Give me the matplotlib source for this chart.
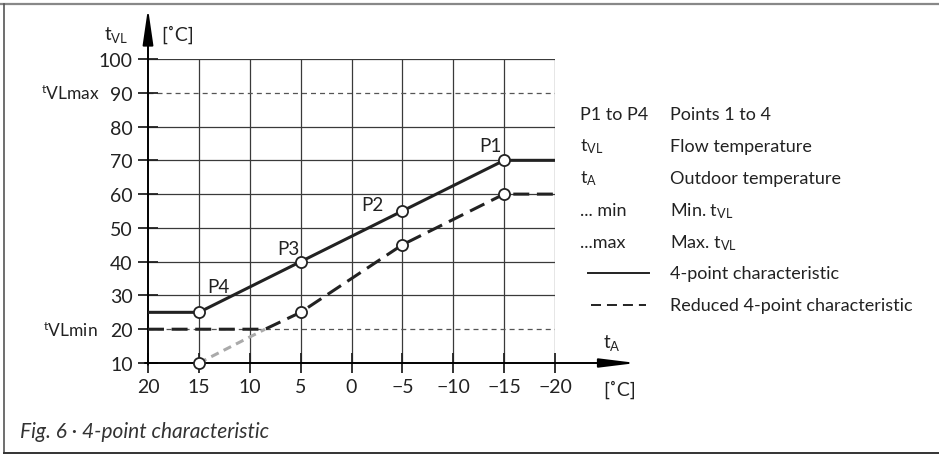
import matplotlib
matplotlib.use("Agg")
import matplotlib.pyplot as plt
from matplotlib.lines import Line2D

plt.rcParams['font.family'] = ['Lato', 'DejaVu Sans']
plt.rcParams['mathtext.fontset'] = 'custom'
plt.rcParams['mathtext.rm'] = 'Lato'
plt.rcParams['lines.scale_dashes'] = False

# data
x_ticks = [20, 15, 10, 5, 0, -5, -10, -15, -20]
x_ticklabels = ['20', '15', '10', '5', '0', '\u22125', '\u221210', '\u221215', '\u221220']
y_ticks = [10, 20, 30, 40, 50, 60, 70, 80, 90, 100]
t_vl_max = 90
t_vl_min = 20

# 4-point characteristic
char_x = [20, 15, 5, -5, -15, -20]
char_y = [25, 25, 40, 55, 70, 70]
points_x = [-15, -5, 5, 15]
points_y = [70, 55, 40, 25]
point_names = ['P1', 'P2', 'P3', 'P4']

# reduced 4-point characteristic
red_x = [20, 8.5, 5, -5, -15, -20]
red_y = [20, 20, 25, 45, 60, 60]
red_pts_x = [15, 5, -5, -15]
red_pts_y = [10, 25, 45, 60]
cut_x = [15, 8.5]
cut_y = [10, 20]

legend_keys = ['P1 to P4', r'$\mathregular{t_{VL}}$', r'$\mathregular{t_{A}}$', '... min', '...max']
legend_texts = ['Points 1 to 4', 'Flow temperature', 'Outdoor temperature',
                r'Min. $\mathregular{t_{VL}}$', r'Max. $\mathregular{t_{VL}}$',
                '4-point characteristic', 'Reduced 4-point characteristic']

W, H = 939, 456
fig = plt.figure(figsize=(W / 100, H / 100), dpi=100)

def fx(px):
    return px / W

def fy(py):
    return 1 - py / H

ax = fig.add_axes([fx(148), fy(364), fx(555) - fx(148), fy(60) - fy(364)])
ax.set_xlim(20, -20)
ax.set_ylim(10, 100)
for s in ax.spines.values():
    s.set_visible(False)

# grid
grid_c = '#3a3a3a'
for xv in x_ticks[1:]:
    ax.plot([xv, xv], [10, 100], color=grid_c, lw=0.9, zorder=1)
for yv in y_ticks[2:]:
    if yv != t_vl_max:
        ax.plot([20, -20], [yv, yv], color=grid_c, lw=0.9, zorder=1)
for yv in (t_vl_max, t_vl_min):
    ax.plot([20, -20], [yv, yv], color='#555555', lw=0.9, ls=(0, (3.6, 2.9)), zorder=1)

ax.set_xticks(x_ticks)
ax.set_xticklabels(x_ticklabels)
ax.set_yticks(y_ticks)
ax.tick_params(direction='inout', length=14, width=1.3, color='#222222',
               labelsize=14, pad=4, labelcolor='#222222')

# axes with arrows
ax.annotate('', xy=(20, 115), xytext=(20, 9.5), annotation_clip=False,
            arrowprops=dict(arrowstyle='-|>,head_length=2.2,head_width=0.32',
                            mutation_scale=10, color='black', lw=1.4,
                            shrinkA=0, shrinkB=0))
ax.annotate('', xy=(-28, 10), xytext=(20.3, 10), annotation_clip=False,
            arrowprops=dict(arrowstyle='-|>,head_length=2.2,head_width=0.27',
                            mutation_scale=10, color='black', lw=1.4,
                            shrinkA=0, shrinkB=0))

# curves
ax.plot(cut_x, cut_y, color='#aaaaaa', lw=2.2, ls=(0, (6, 4)), zorder=3)
ax.plot(red_x, red_y, color='#222222', lw=2.2, ls=(0, (11.5, 5.5)), zorder=3)
ax.plot(char_x, char_y, color='#222222', lw=2.2, zorder=3)
ax.plot(points_x, points_y, 'o', ms=8, mfc='white', mec='#222222', mew=1.3,
        zorder=5, clip_on=False)
ax.plot(red_pts_x, red_pts_y, 'o', ms=8, mfc='white', mec='#222222', mew=1.3,
        zorder=5, clip_on=False)

offsets = [(-10, 10.5), (-21.5, 4.5), (-8.6, 9.6), (13.7, 18.7)]
for name, px, py, off in zip(point_names, points_x, points_y, offsets):
    ax.annotate(name, (px, py), xytext=off, textcoords='offset points',
                ha='center', va='center', fontsize=13.5, color='#222222')

# axis labels
tc = '#222222'
fig.text(fx(116), fy(35), r'$\mathregular{t_{VL}}$', ha='center', va='center', fontsize=13.5, color=tc)
fig.text(fx(178), fy(35), '[\u02daC]', ha='center', va='center', fontsize=14, color=tc)
fig.text(fx(612), fy(343), r'$\mathregular{t_{A}}$', ha='center', va='center', fontsize=13.5, color=tc)
fig.text(fx(620), fy(390), '[\u02daC]', ha='center', va='center', fontsize=14, color=tc)
fig.text(fx(100), fy(94), r'$\mathregular{^{t}VLmax}$', ha='right', va='center', fontsize=12.5, color=tc)
fig.text(fx(98), fy(331), r'$\mathregular{^{t}VLmin}$', ha='right', va='center', fontsize=12.5, color=tc)

# legend block
rows_y = [115, 147, 179, 211, 243, 274, 306]
for key, yy in zip(legend_keys, rows_y):
    fig.text(fx(580), fy(yy), key, ha='left', va='center', fontsize=13, color=tc)
for txt, yy in zip(legend_texts, rows_y):
    fig.text(fx(670), fy(yy), txt, ha='left', va='center', fontsize=13, color=tc)
fig.add_artist(Line2D([fx(588), fx(649)], [fy(274), fy(274)], color='#222222', lw=1.4))
fig.add_artist(Line2D([fx(591), fx(646)], [fy(306), fy(306)], color='#222222', lw=1.4,
                      ls=(0, (7.2, 4.3))))

# caption
fig.text(fx(20), fy(432), 'Fig. 6 \u00b7 4-point characteristic', ha='left', va='center',
         fontsize=15, style='italic', color='#333333')

# frame
fig.add_artist(Line2D([0, 1], [fy(5), fy(5)], color='#888888', lw=1.6))
fig.add_artist(Line2D([fx(4), fx(4)], [fy(5), fy(454)], color='#555555', lw=1.2))
fig.add_artist(Line2D([fx(4), 1], [fy(454), fy(454)], color='#333333', lw=1.4))

fig.savefig('out.png', dpi=100)
